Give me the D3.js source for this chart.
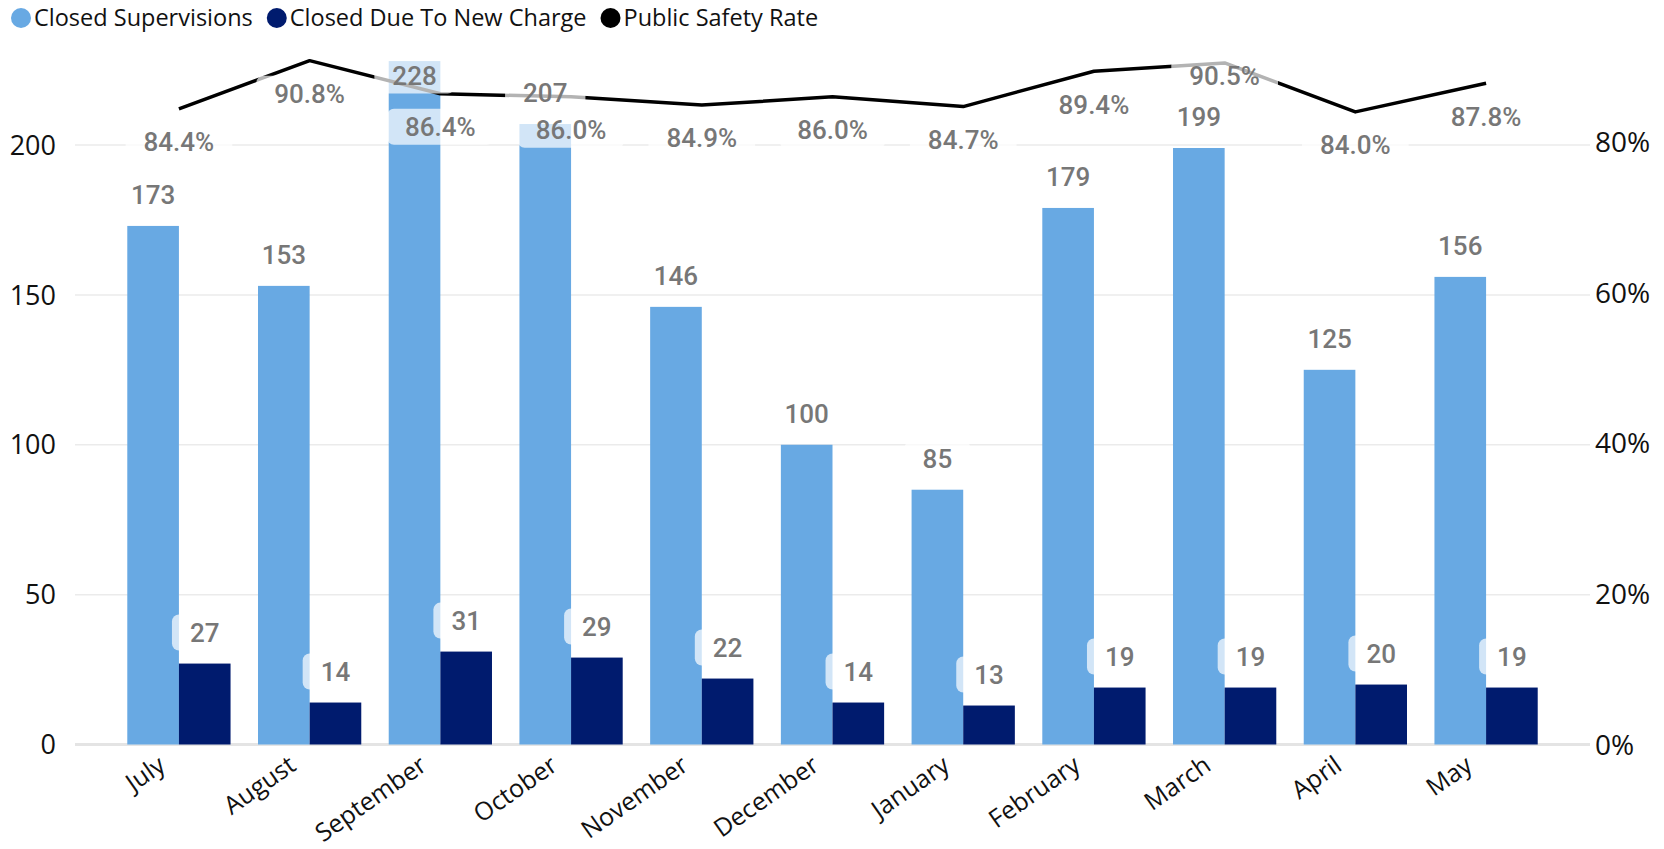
<!DOCTYPE html>
<html>
<head>
<meta charset="utf-8">
<script src="https://cdn.jsdelivr.net/npm/d3@7"></script>
<style>
  body { margin: 0; background: #fff; }
  svg { display: block; }
</style>
</head>
<body>
<svg id="chart" width="1664" height="849"></svg>
<script>
// data
var months = ["July","August","September","October","November","December","January","February","March","April","May"];
var closedSup = [173,153,228,207,146,100,85,179,199,125,156];
var closedNew = [27,14,31,29,22,14,13,19,19,20,19];
var safetyRate = [84.4,90.8,86.4,86.0,84.9,86.0,84.7,89.4,90.5,84.0,87.8];
var leftTicks = [0,50,100,150,200];
var rightTicks = [0,20,40,60,80];

var seriesNames = ["Closed Supervisions","Closed Due To New Charge","Public Safety Rate"];
var colors = ["#68a9e3","#001b6e","#000000"];

var svg = d3.select("#chart");
var uiFont = "'Open Sans', 'Noto Sans', sans-serif";
var labelFont = "Roboto, sans-serif";
var plotTop = 50;

var x = d3.scaleBand().domain(months).range([75,1590]).paddingInner(0.21).paddingOuter(0.4);
var x1 = d3.scaleBand().domain([0,1]).range([0,x.bandwidth()]);
var yL = d3.scaleLinear().domain([0,200]).range([744.5,145]);
var yR = d3.scaleLinear().domain([0,80]).range([744.5,142]);

// gridlines
svg.append("g").selectAll("line").data(leftTicks).enter().append("line")
  .attr("x1",75).attr("x2",1590)
  .attr("y1",d=>yL(d)).attr("y2",d=>yL(d))
  .attr("stroke",d=>d==0 ? "#e4e4e4" : "#ebebeb")
  .attr("stroke-width",d=>d==0 ? 3 : 1.5);

// left axis labels
svg.append("g").selectAll("text").data(leftTicks).enter().append("text")
  .attr("x",56).attr("y",d=>yL(d)).attr("dy","0.36em")
  .attr("text-anchor","end")
  .style("font-family",uiFont).style("font-size","27px").attr("fill","#111")
  .text(d=>d);

// right axis labels
svg.append("g").selectAll("text").data(rightTicks).enter().append("text")
  .attr("x",1595).attr("y",d=>yR(d)).attr("dy","0.36em")
  .attr("text-anchor","start")
  .style("font-family",uiFont).style("font-size","28px").attr("fill","#111")
  .text(d=>d+"%");

// bars
var groups = svg.append("g").selectAll("g").data(months).enter().append("g")
  .attr("transform",d=>"translate("+x(d)+",0)");
groups.append("rect")
  .attr("x",x1(0)).attr("width",x1.bandwidth())
  .attr("y",(d,i)=>yL(closedSup[i])).attr("height",(d,i)=>yL(0)-yL(closedSup[i]))
  .attr("fill",colors[0]);
groups.append("rect")
  .attr("x",x1(1)).attr("width",x1.bandwidth())
  .attr("y",(d,i)=>yL(closedNew[i])).attr("height",(d,i)=>yL(0)-yL(closedNew[i]))
  .attr("fill",colors[1]);

// line
var cx = d=>x(d)+x.bandwidth()/2;
var line = d3.line().x((d,i)=>cx(months[i])).y(d=>yR(d));
svg.append("path").datum(safetyRate)
  .attr("d",line).attr("fill","none")
  .attr("stroke","#000").attr("stroke-width",3.5).attr("stroke-linejoin","round");

// data labels (text + translucent rounded box)
function barLabelY(v){
  var top = yL(v);
  // no room above the bar -> put it inside
  return (top - 31 - 18 < plotTop) ? top + 14.5 : top - 31;
}
var barLabels = [], rateLabels = [];
months.forEach(function(m,i){
  barLabels.push({x:x(m)+x1(0)+x1.bandwidth()/2, y:barLabelY(closedSup[i]), t:String(closedSup[i])});
  barLabels.push({x:x(m)+x1(1)+x1.bandwidth()/2, y:barLabelY(closedNew[i]), t:String(closedNew[i])});
  rateLabels.push({x:cx(m), y:yR(safetyRate[i])+33, t:safetyRate[i].toFixed(1)+"%"});
});
var labels = barLabels.concat(rateLabels);
var lg = svg.append("g");
var boxes = lg.append("g");
var texts = lg.append("g").selectAll("text").data(labels).enter().append("text")
  .attr("text-anchor","middle")
  .style("font-family",labelFont).style("font-size","26px").style("font-weight",500).attr("fill","#777")
  .text(d=>d.t);
texts.each(function(d){ d.w = this.getComputedTextLength(); });

// push a rate label up if it runs into a bar label
rateLabels.forEach(function(r){
  barLabels.forEach(function(b){
    var dx = Math.abs(r.x-b.x) < (r.w+b.w)/2+36;
    var dy = Math.abs(r.y-b.y) < 36;
    if(dx && dy) r.y = b.y - 18 - 5 - 18;
  });
});

texts.attr("x",d=>d.x).attr("y",d=>d.y).attr("dy","0.36em");
boxes.selectAll("rect").data(labels).enter().append("rect")
  .attr("x",d=>d.x-d.w/2-18).attr("width",d=>d.w+36)
  .attr("y",d=>d.y-18).attr("height",36)
  .attr("rx",7).attr("fill","#fff").attr("fill-opacity",0.7);

// x axis labels
svg.append("g").selectAll("text").data(months).enter().append("text")
  .attr("transform",d=>"translate("+(cx(d)-12)+",769) rotate(-35)")
  .attr("text-anchor","end")
  .style("font-family",uiFont).style("font-size","25px").attr("fill","#111")
  .text(d=>d);

// legend
var lx = 21;
var leg = svg.append("g");
seriesNames.forEach(function(s,i){
  leg.append("circle").attr("cx",lx).attr("cy",18).attr("r",10).attr("fill",colors[i]);
  var t = leg.append("text").attr("x",lx+13).attr("y",18).attr("dy","0.35em")
    .style("font-family",uiFont).style("font-size","23.5px").attr("fill","#111")
    .text(s);
  lx += 13 + t.node().getComputedTextLength() + 24;
});
</script>
</body>
</html>
